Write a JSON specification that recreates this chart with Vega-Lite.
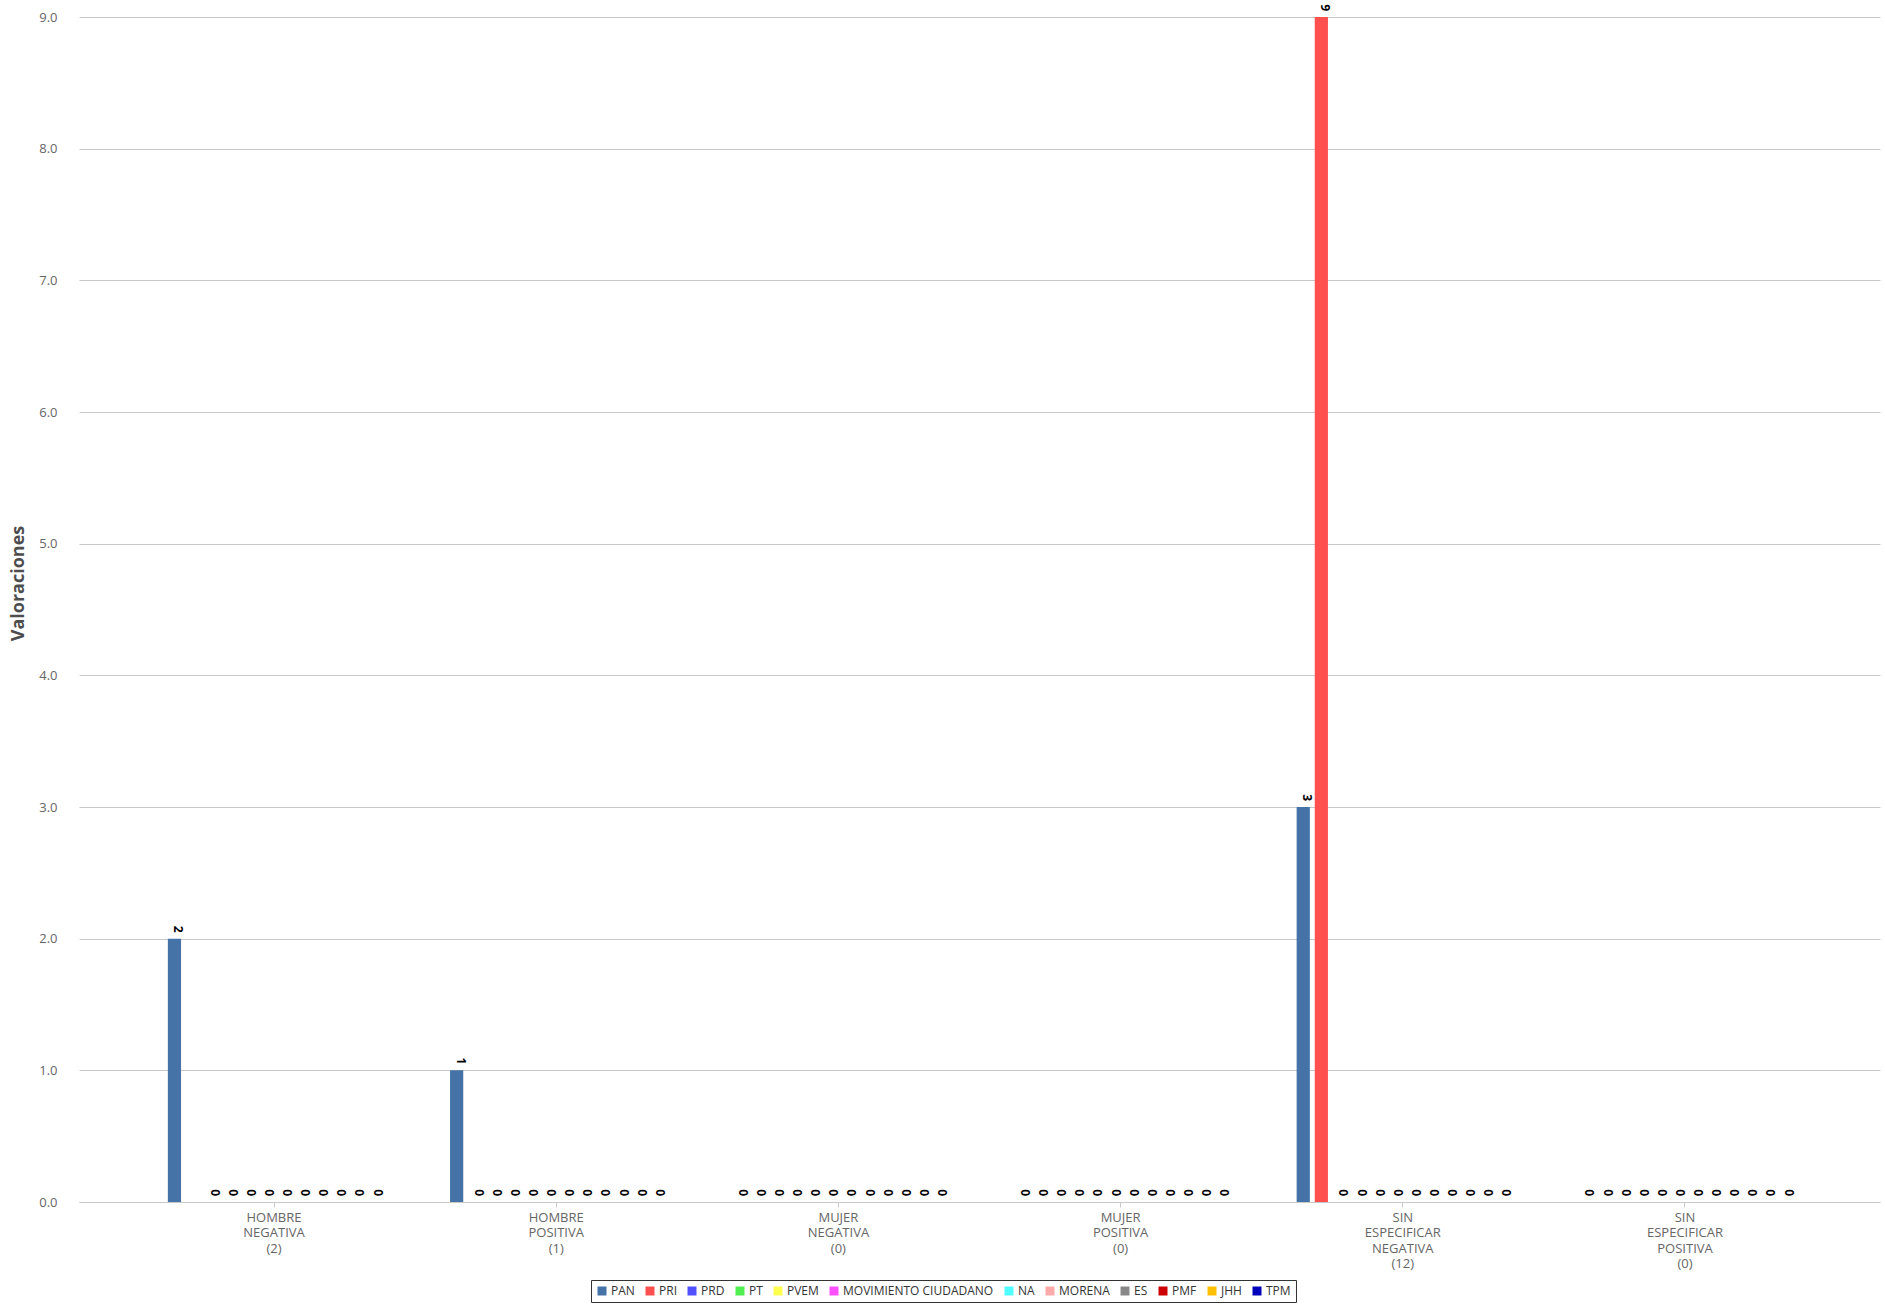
{
  "$schema": "https://vega.github.io/schema/vega-lite/v6.json",
  "width": 1801,
  "height": 1185,
  "autosize": {"type": "none"},
  "padding": {"left": 79, "top": 17, "right": 4, "bottom": 102},
  "background": "#ffffff",
  "config": {
    "view": {"stroke": null},
    "font": "Open Sans"
  },
  "data": {
    "values": [
      {"categoria": "HOMBRE|NEGATIVA|(2)", "partido": "PAN", "valor": 2},
      {"categoria": "HOMBRE|NEGATIVA|(2)", "partido": "PRI", "valor": 0},
      {"categoria": "HOMBRE|NEGATIVA|(2)", "partido": "PRD", "valor": 0},
      {"categoria": "HOMBRE|NEGATIVA|(2)", "partido": "PT", "valor": 0},
      {"categoria": "HOMBRE|NEGATIVA|(2)", "partido": "PVEM", "valor": 0},
      {"categoria": "HOMBRE|NEGATIVA|(2)", "partido": "MOVIMIENTO CIUDADANO", "valor": 0},
      {"categoria": "HOMBRE|NEGATIVA|(2)", "partido": "NA", "valor": 0},
      {"categoria": "HOMBRE|NEGATIVA|(2)", "partido": "MORENA", "valor": 0},
      {"categoria": "HOMBRE|NEGATIVA|(2)", "partido": "ES", "valor": 0},
      {"categoria": "HOMBRE|NEGATIVA|(2)", "partido": "PMF", "valor": 0},
      {"categoria": "HOMBRE|NEGATIVA|(2)", "partido": "JHH", "valor": 0},
      {"categoria": "HOMBRE|NEGATIVA|(2)", "partido": "TPM", "valor": 0},
      {"categoria": "HOMBRE|POSITIVA|(1)", "partido": "PAN", "valor": 1},
      {"categoria": "HOMBRE|POSITIVA|(1)", "partido": "PRI", "valor": 0},
      {"categoria": "HOMBRE|POSITIVA|(1)", "partido": "PRD", "valor": 0},
      {"categoria": "HOMBRE|POSITIVA|(1)", "partido": "PT", "valor": 0},
      {"categoria": "HOMBRE|POSITIVA|(1)", "partido": "PVEM", "valor": 0},
      {"categoria": "HOMBRE|POSITIVA|(1)", "partido": "MOVIMIENTO CIUDADANO", "valor": 0},
      {"categoria": "HOMBRE|POSITIVA|(1)", "partido": "NA", "valor": 0},
      {"categoria": "HOMBRE|POSITIVA|(1)", "partido": "MORENA", "valor": 0},
      {"categoria": "HOMBRE|POSITIVA|(1)", "partido": "ES", "valor": 0},
      {"categoria": "HOMBRE|POSITIVA|(1)", "partido": "PMF", "valor": 0},
      {"categoria": "HOMBRE|POSITIVA|(1)", "partido": "JHH", "valor": 0},
      {"categoria": "HOMBRE|POSITIVA|(1)", "partido": "TPM", "valor": 0},
      {"categoria": "MUJER|NEGATIVA|(0)", "partido": "PAN", "valor": 0},
      {"categoria": "MUJER|NEGATIVA|(0)", "partido": "PRI", "valor": 0},
      {"categoria": "MUJER|NEGATIVA|(0)", "partido": "PRD", "valor": 0},
      {"categoria": "MUJER|NEGATIVA|(0)", "partido": "PT", "valor": 0},
      {"categoria": "MUJER|NEGATIVA|(0)", "partido": "PVEM", "valor": 0},
      {"categoria": "MUJER|NEGATIVA|(0)", "partido": "MOVIMIENTO CIUDADANO", "valor": 0},
      {"categoria": "MUJER|NEGATIVA|(0)", "partido": "NA", "valor": 0},
      {"categoria": "MUJER|NEGATIVA|(0)", "partido": "MORENA", "valor": 0},
      {"categoria": "MUJER|NEGATIVA|(0)", "partido": "ES", "valor": 0},
      {"categoria": "MUJER|NEGATIVA|(0)", "partido": "PMF", "valor": 0},
      {"categoria": "MUJER|NEGATIVA|(0)", "partido": "JHH", "valor": 0},
      {"categoria": "MUJER|NEGATIVA|(0)", "partido": "TPM", "valor": 0},
      {"categoria": "MUJER|POSITIVA|(0)", "partido": "PAN", "valor": 0},
      {"categoria": "MUJER|POSITIVA|(0)", "partido": "PRI", "valor": 0},
      {"categoria": "MUJER|POSITIVA|(0)", "partido": "PRD", "valor": 0},
      {"categoria": "MUJER|POSITIVA|(0)", "partido": "PT", "valor": 0},
      {"categoria": "MUJER|POSITIVA|(0)", "partido": "PVEM", "valor": 0},
      {"categoria": "MUJER|POSITIVA|(0)", "partido": "MOVIMIENTO CIUDADANO", "valor": 0},
      {"categoria": "MUJER|POSITIVA|(0)", "partido": "NA", "valor": 0},
      {"categoria": "MUJER|POSITIVA|(0)", "partido": "MORENA", "valor": 0},
      {"categoria": "MUJER|POSITIVA|(0)", "partido": "ES", "valor": 0},
      {"categoria": "MUJER|POSITIVA|(0)", "partido": "PMF", "valor": 0},
      {"categoria": "MUJER|POSITIVA|(0)", "partido": "JHH", "valor": 0},
      {"categoria": "MUJER|POSITIVA|(0)", "partido": "TPM", "valor": 0},
      {"categoria": "SIN|ESPECIFICAR|NEGATIVA|(12)", "partido": "PAN", "valor": 3},
      {"categoria": "SIN|ESPECIFICAR|NEGATIVA|(12)", "partido": "PRI", "valor": 9},
      {"categoria": "SIN|ESPECIFICAR|NEGATIVA|(12)", "partido": "PRD", "valor": 0},
      {"categoria": "SIN|ESPECIFICAR|NEGATIVA|(12)", "partido": "PT", "valor": 0},
      {"categoria": "SIN|ESPECIFICAR|NEGATIVA|(12)", "partido": "PVEM", "valor": 0},
      {"categoria": "SIN|ESPECIFICAR|NEGATIVA|(12)", "partido": "MOVIMIENTO CIUDADANO", "valor": 0},
      {"categoria": "SIN|ESPECIFICAR|NEGATIVA|(12)", "partido": "NA", "valor": 0},
      {"categoria": "SIN|ESPECIFICAR|NEGATIVA|(12)", "partido": "MORENA", "valor": 0},
      {"categoria": "SIN|ESPECIFICAR|NEGATIVA|(12)", "partido": "ES", "valor": 0},
      {"categoria": "SIN|ESPECIFICAR|NEGATIVA|(12)", "partido": "PMF", "valor": 0},
      {"categoria": "SIN|ESPECIFICAR|NEGATIVA|(12)", "partido": "JHH", "valor": 0},
      {"categoria": "SIN|ESPECIFICAR|NEGATIVA|(12)", "partido": "TPM", "valor": 0},
      {"categoria": "SIN|ESPECIFICAR|POSITIVA|(0)", "partido": "PAN", "valor": 0},
      {"categoria": "SIN|ESPECIFICAR|POSITIVA|(0)", "partido": "PRI", "valor": 0},
      {"categoria": "SIN|ESPECIFICAR|POSITIVA|(0)", "partido": "PRD", "valor": 0},
      {"categoria": "SIN|ESPECIFICAR|POSITIVA|(0)", "partido": "PT", "valor": 0},
      {"categoria": "SIN|ESPECIFICAR|POSITIVA|(0)", "partido": "PVEM", "valor": 0},
      {"categoria": "SIN|ESPECIFICAR|POSITIVA|(0)", "partido": "MOVIMIENTO CIUDADANO", "valor": 0},
      {"categoria": "SIN|ESPECIFICAR|POSITIVA|(0)", "partido": "NA", "valor": 0},
      {"categoria": "SIN|ESPECIFICAR|POSITIVA|(0)", "partido": "MORENA", "valor": 0},
      {"categoria": "SIN|ESPECIFICAR|POSITIVA|(0)", "partido": "ES", "valor": 0},
      {"categoria": "SIN|ESPECIFICAR|POSITIVA|(0)", "partido": "PMF", "valor": 0},
      {"categoria": "SIN|ESPECIFICAR|POSITIVA|(0)", "partido": "JHH", "valor": 0},
      {"categoria": "SIN|ESPECIFICAR|POSITIVA|(0)", "partido": "TPM", "valor": 0}
    ]
  },
  "encoding": {
    "x": {
      "field": "categoria",
      "type": "nominal",
      "sort": null,
      "scale": {"paddingInner": 0.222, "paddingOuter": 0.302},
      "axis": {
        "title": null,
        "labelAngle": 0,
        "labelExpr": "split(datum.label, '|')",
        "labelFont": "Open Sans",
        "labelFontSize": 13,
        "labelColor": "#666666",
        "labelLineHeight": 15.6,
        "labelPadding": 4,
        "labelBaseline": "top",
        "tickSize": 5,
        "tickColor": "#C8C8C8",
        "domainColor": "#C8C8C8",
        "grid": false
      }
    },
    "xOffset": {
      "field": "partido",
      "type": "nominal",
      "sort": ["PAN", "PRI", "PRD", "PT", "PVEM", "MOVIMIENTO CIUDADANO", "NA", "MORENA", "ES", "PMF", "JHH", "TPM"],
      "scale": {"paddingInner": 0.27, "paddingOuter": 0.2}
    },
    "y": {
      "field": "valor",
      "type": "quantitative",
      "scale": {"domain": [0, 9], "nice": false},
      "axis": {
        "title": "Valoraciones",
        "titleFont": "Open Sans",
        "titleFontSize": 18,
        "titleFontWeight": "bold",
        "titleColor": "#4d4d4d",
        "titleX": -61,
        "titleY": 566,
        "titleAngle": -90,
        "titleAlign": "center",
        "titleBaseline": "middle",
        "values": [0, 1, 2, 3, 4, 5, 6, 7, 8, 9],
        "format": ".1f",
        "labelFont": "Open Sans",
        "labelFontSize": 13,
        "labelColor": "#666666",
        "labelPadding": 22,
        "ticks": false,
        "domain": false,
        "grid": true,
        "gridColor": "#C8C8C8",
        "gridWidth": 1
      }
    }
  },
  "layer": [
    {
      "mark": {"type": "bar"},
      "encoding": {
        "color": {
          "field": "partido",
          "type": "nominal",
          "scale": {
            "domain": ["PAN", "PRI", "PRD", "PT", "PVEM", "MOVIMIENTO CIUDADANO", "NA", "MORENA", "ES", "PMF", "JHH", "TPM"],
            "range": ["#4572A7", "#FF5050", "#5050FF", "#50EE50", "#FFFF50", "#FF50FF", "#50FFFF", "#FFAAAA", "#888888", "#CC0000", "#FFC000", "#0000BB"]
          },
          "legend": {
            "title": null,
            "orient": "none",
            "legendX": 512,
            "legendY": 1263,
            "direction": "horizontal",
            "columns": 12,
            "columnPadding": 9,
            "symbolType": "square",
            "symbolSize": 81,
            "symbolStrokeWidth": 0,
            "labelFont": "Open Sans",
            "labelFontSize": 12,
            "labelColor": "#333333",
            "labelOffset": 3,
            "labelLimit": 300,
            "strokeColor": "#333333",
            "padding": 5,
            "cornerRadius": 0
          }
        }
      }
    },
    {
      "transform": [
        {"filter": "!(datum.categoria == 'HOMBRE|NEGATIVA|(2)' && datum.partido == 'PRI')"}
      ],
      "mark": {
        "type": "text",
        "angle": 90,
        "align": "right",
        "baseline": "middle",
        "dx": -6,
        "dy": -4,
        "font": "Open Sans",
        "fontSize": 12,
        "fontWeight": "bold",
        "color": "#000000"
      },
      "encoding": {
        "text": {"field": "valor", "type": "quantitative", "format": "d"}
      }
    }
  ]
}
